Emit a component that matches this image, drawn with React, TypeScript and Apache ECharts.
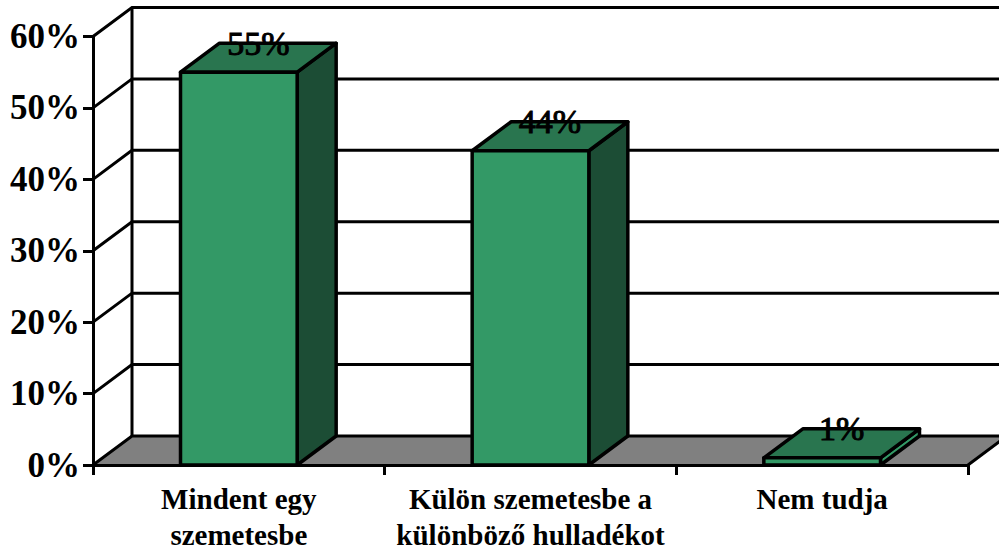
import React, { useEffect, useRef } from "react";
import * as echarts from "echarts";

const categories = ["Mindent egy\nszemetesbe", "Külön szemetesbe a\nkülönböző hulladékot", "Nem tudja"];
const values = [55, 44, 1];
const yTicks = [0, 10, 20, 30, 40, 50, 60];

const DX = 39;
const DY = -29;
const BLACK = "#000000";
const FONT = '"Liberation Serif", "Times New Roman", serif';

export default function App() {
  const ref = useRef<HTMLDivElement>(null);
  useEffect(() => {
    document.body.style.margin = "0";
    const chart = echarts.init(ref.current!, null, { renderer: "svg" });
    const lineStyle = { stroke: BLACK, lineWidth: 3, fill: "none" };
    chart.setOption({
      animation: false,
      backgroundColor: "#ffffff",
      grid: { left: 93, right: 31, top: 36.5, bottom: 88, outerBoundsMode: "none" },
      xAxis: {
        type: "category",
        data: categories,
        z: 2,
        boundaryGap: true,
        axisLine: { lineStyle: { color: BLACK, width: 3 } },
        axisTick: { show: true, alignWithLabel: false, length: 10, lineStyle: { color: BLACK, width: 3 } },
        axisLabel: {
          interval: 0,
          margin: 16,
          color: BLACK,
          fontFamily: FONT,
          fontWeight: "bold",
          fontSize: 29,
          lineHeight: 36,
        },
      },
      yAxis: {
        type: "value",
        min: 0,
        max: 60,
        interval: 10,
        z: 2,
        axisLine: { show: true, lineStyle: { color: BLACK, width: 3 } },
        axisTick: { show: true, length: 10, lineStyle: { color: BLACK, width: 3 } },
        splitLine: { show: false },
        axisLabel: {
          margin: 13,
          padding: [4, 0, 0, 0],
          color: BLACK,
          fontFamily: FONT,
          fontWeight: "bold",
          fontSize: 35,
          formatter: "{value}%",
        },
      },
      series: [
        {
          type: "custom",
          coordinateSystem: "cartesian2d",
          z: 1,
          clip: false,
          silent: true,
          data: yTicks,
          encode: { y: 0 },
          renderItem: (params: any, api: any) => {
            const v = api.value(0);
            const sys = params.coordSys;
            const [, y] = api.coord([0, v]);
            const left = sys.x;
            const right = sys.x + sys.width;
            const children: any[] = [];
            if (v === 0) {
              children.push({
                type: "polygon",
                shape: { points: [[left, y], [left + DX, y + DY], [right + DX, y + DY], [right, y]] },
                style: { fill: "#808080", stroke: "none" },
              });
              children.push({
                type: "polyline",
                shape: { points: [[right, y], [right + DX, y + DY]] },
                style: lineStyle,
              });
              children.push({
                type: "line",
                shape: { x1: left + DX, y1: sys.y + DY, x2: left + DX, y2: y + DY },
                style: lineStyle,
              });
            }
            children.push({
              type: "polyline",
              shape: { points: [[left, y], [left + DX, y + DY], [right + DX, y + DY]] },
              style: lineStyle,
            });
            return { type: "group", children };
          },
        },
        {
          type: "custom",
          coordinateSystem: "cartesian2d",
          z: 3,
          clip: false,
          data: values.map((v, i) => [i, v]),
          encode: { x: 0, y: 1 },
          renderItem: (_params: any, api: any) => {
            const i = api.value(0);
            const v = api.value(1);
            const [cx, top] = api.coord([i, v]);
            const [, base] = api.coord([i, 0]);
            const w = api.size([1, 0])[0] * 0.4;
            const l = cx - w / 2;
            const r = cx + w / 2;
            const edge = { stroke: BLACK, lineWidth: 3.5, lineJoin: "round" };
            return {
              type: "group",
              children: [
                {
                  type: "polygon",
                  shape: { points: [[r, base], [r + DX, base + DY], [r + DX, top + DY], [r, top]] },
                  style: { fill: v < 5 ? "#339966" : "#1C4D35", ...edge },
                },
                {
                  type: "polygon",
                  shape: { points: [[l, top], [r, top], [r + DX, top + DY], [l + DX, top + DY]] },
                  style: { fill: "#29754F", ...edge },
                },
                {
                  type: "polygon",
                  shape: { points: [[l, base], [r, base], [r, top], [l, top]] },
                  style: { fill: "#339966", ...edge },
                },
                {
                  type: "text",
                  x: cx + DX / 2,
                  y: top + DY,
                  style: {
                    text: v + "%",
                    fill: BLACK,
                    stroke: BLACK,
                    lineWidth: 1,
                    font: `34px ${FONT}`,
                    align: "center",
                    verticalAlign: "middle",
                  },
                },
              ],
            };
          },
        },
      ],
    });
    return () => chart.dispose();
  }, []);
  return <div ref={ref} style={{ width: 999, height: 553 }} />;
}
